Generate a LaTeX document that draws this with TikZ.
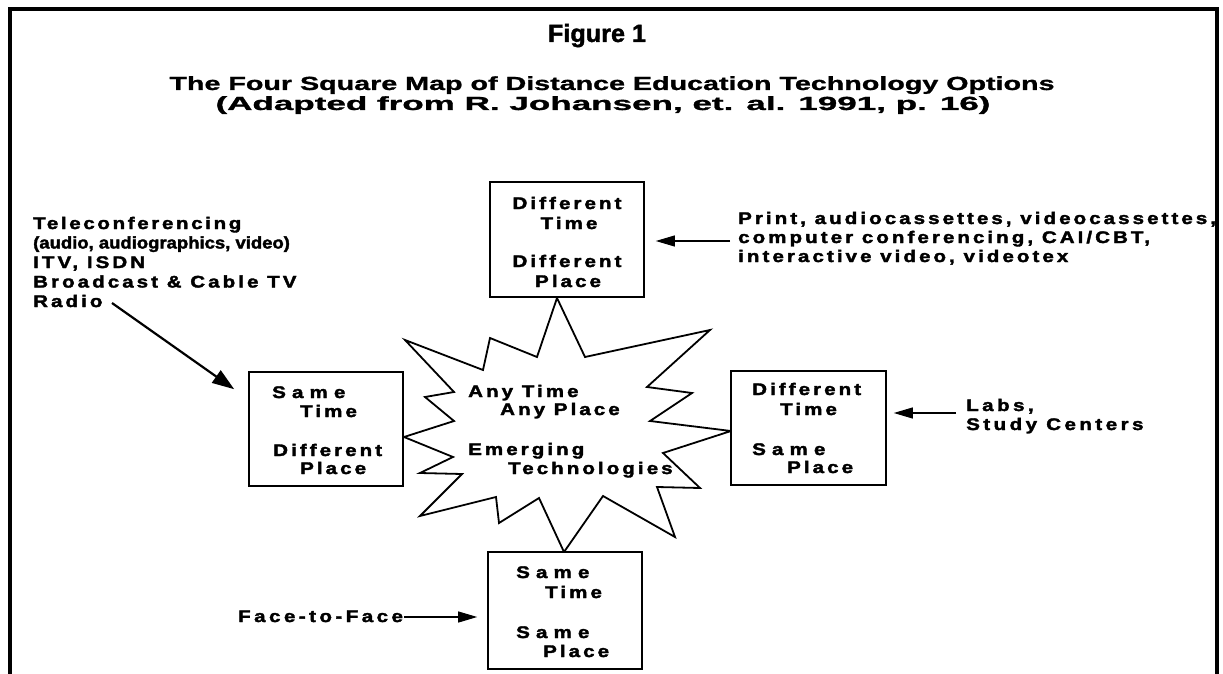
\documentclass[tikz,border=0pt]{standalone}
\usepackage{fontspec}
\setmainfont{Liberation Sans}
\usetikzlibrary{arrows.meta,calc}

% widened, tracked bold lettering used for all labels
\newcommand{\wtxt}[2][15]{\scalebox{1.22}[1]{\addfontfeature{LetterSpace=#1}#2}}

\begin{document}
\begin{tikzpicture}[x=1pt,y=-1pt,
  txt/.style={inner sep=0pt, anchor=base west,
    font=\fontsize{16.8}{19}\selectfont\bfseries\addfontfeature{FakeBold=2}},
  ctxt/.style={txt, anchor=base},
  head/.style={inner sep=0pt, anchor=base},
  sq/.style={draw, line width=1.6pt, fill=white, inner sep=0pt,
    minimum width=154pt, minimum height=115pt},
  burst/.style={draw, line width=1.8pt, fill=white, line join=miter},
  arr/.style={line width=1.1pt, -{Triangle[length=19pt,width=11pt]}},
  bigarr/.style={line width=2.2pt, -{Triangle[length=22pt,width=15pt]}},
  frame/.style={line width=3.5pt}
]
\useasboundingbox (0,0) rectangle (1223,674);

% outer frame, open at the bottom
\draw[frame] (10,674) -- (10,9) -- (1217,9) -- (1217,674);

% heading
\node[head] (fig) at (597,42)
  {\resizebox{98pt}{\height}{\fontsize{25}{28}\selectfont\bfseries\addfontfeature{FakeBold=1.5}Figure 1}};
\node[head] (sub1) at (612,90)
  {\resizebox{885pt}{\height}{\fontsize{19}{22}\selectfont\bfseries\addfontfeature{FakeBold=1}The Four Square Map of Distance Education Technology Options}};
\node[head] (sub2) at (603,110)
  {\resizebox{775pt}{\height}{\fontsize{19}{22}\selectfont\bfseries\addfontfeature{FakeBold=1}(Adapted from R. Johansen, et. al. 1991, p. 16)}};

% the central burst
\draw[burst] (557,298) -- (585,357) -- (710,330) -- (647,387) -- (692,393)
  -- (650,421) -- (731,431) -- (663,453) -- (700,488) -- (657,487)
  -- (675,537) -- (603,496) -- (564,552) -- (539,498) -- (499,523)
  -- (496,497) -- (420,516) -- (462,474) -- (420,473) -- (453,457)
  -- (404,437) -- (454,421) -- (425,397) -- (454,392) -- (405,340)
  -- (483,370) -- (490,338) -- (537,357) -- cycle;
\node[txt] (any1) at (468,397) {\wtxt{Any Time}};
\node[txt] (any2) at (500,415) {\wtxt{Any Place}};
\node[txt] (em1) at (468,455) {\wtxt{Emerging}};
\node[txt] (em2) at (508,474) {\wtxt{Technologies}};

% the four squares
\node[sq] (tbox) at (567,239.5) {};
\node[ctxt] (t1) at (567,209) {\wtxt{Different}};
\node[ctxt] (t2) at (569,229) {\wtxt{Time}};
\node[ctxt] (t3) at (567,267) {\wtxt{Different}};
\node[ctxt] (t4) at (568,287) {\wtxt{Place}};

\node[sq, minimum height=114pt] (lbox) at (326,429) {};
\node[txt] (l1) at (272,398) {\wtxt[30]{Same}};
\node[txt] (l2) at (300,417) {\wtxt{Time}};
\node[txt] (l3) at (273,456) {\wtxt{Different}};
\node[txt] (l4) at (300,474) {\wtxt{Place}};

\node[sq, minimum width=155pt, minimum height=114pt] (rbox) at (808.5,428) {};
\node[txt] (r1) at (752,395) {\wtxt{Different}};
\node[txt] (r2) at (780,415) {\wtxt{Time}};
\node[txt] (r3) at (752,455) {\wtxt[30]{Same}};
\node[txt] (r4) at (787,473) {\wtxt{Place}};

\node[sq, minimum height=117pt] (bbox) at (565,610.5) {};
\node[txt] (b1) at (516,578) {\wtxt[30]{Same}};
\node[txt] (b2) at (545,598) {\wtxt{Time}};
\node[txt] (b3) at (516,638) {\wtxt[30]{Same}};
\node[txt] (b4) at (543,657) {\wtxt{Place}};

% technologies for each square
\node[txt] (tel1) at (33,229) {\wtxt[13]{Teleconferencing}};
\node[txt] (tel2) at (33,248.5) {\scalebox{1.1}[1]{(audio, audiographics, video)}};
\node[txt] (tel3) at (33,268) {\wtxt{ITV, ISDN}};
\node[txt] (tel4) at (33,287.5) {\wtxt{Broadcast \& Cable TV}};
\node[txt] (tel5) at (33,307) {\wtxt{Radio}};

\node[txt] (pr1) at (738,224) {\wtxt{Print, audiocassettes, videocassettes,}};
\node[txt] (pr2) at (738,243) {\wtxt{computer conferencing, CAI/CBT,}};
\node[txt] (pr3) at (738,262) {\wtxt{interactive video, videotex}};

\node[txt] (lab1) at (966,411) {\wtxt[17]{Labs,}};
\node[txt] (lab2) at (966,430) {\wtxt[17]{Study Centers}};

\node[txt] (face) at (238,622) {\wtxt[17]{Face-to-Face}};

% pointers
\coordinate (radioTail) at (112,303);
\coordinate (printTail) at (730,241);
\coordinate (labsTail) at (956,413);
\coordinate (faceLine) at (0,617);
\draw[bigarr] (radioTail) -- ($(lbox.north west)+(-14,18)$);
\draw[arr] (printTail) -- ($(tbox.east |- printTail)+(11,0)$);
\draw[arr] (labsTail) -- ($(rbox.east |- labsTail)+(7,0)$);
\draw[arr] ($(face.east |- faceLine)+(1,0)$) -- ($(bbox.west |- faceLine)+(-10,0)$);
\end{tikzpicture}
\end{document}
